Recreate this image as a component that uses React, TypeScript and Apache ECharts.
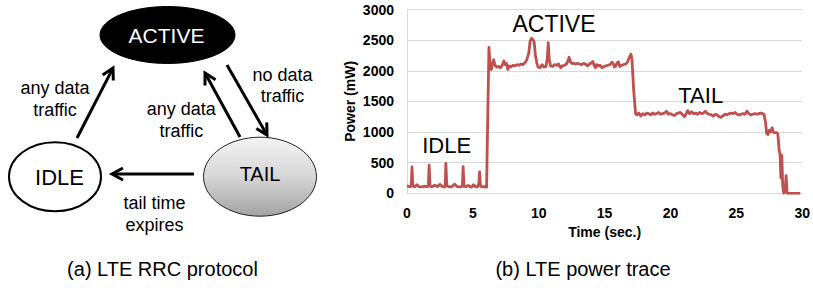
import React, { useEffect, useRef } from "react";
import * as echarts from "echarts";

// ---- data ----
const timeSec = [
  0, 0.2, 0.32, 0.38, 0.45, 0.6, 0.75, 0.9, 1.1, 1.3, 1.55, 1.62, 1.68, 1.75, 1.9, 2.1, 2.3, 2.5, 2.7, 2.85, 2.9, 2.95, 3.02, 3.2,
  3.4, 3.6, 3.8, 4.0, 4.15, 4.2, 4.26, 4.33, 4.5, 4.65, 4.8, 4.9, 5.05, 5.2, 5.35, 5.45, 5.51, 5.58, 5.75, 5.9, 6.04, 6.22,
  6.32, 6.4, 6.5, 6.58, 6.68, 6.8, 6.95, 7.1, 7.25, 7.35, 7.45, 7.55, 7.65, 7.75, 7.9, 8.05, 8.2, 8.35, 8.5, 8.65, 8.8, 8.95,
  9.1, 9.25, 9.35, 9.45, 9.55, 9.65, 9.75, 9.85, 9.95, 10.1, 10.25, 10.4, 10.55, 10.65, 10.72, 10.8, 10.9, 11.05, 11.2, 11.35,
  11.5, 11.65, 11.8, 11.95, 12.1, 12.2, 12.3, 12.4, 12.5, 12.65, 12.8, 12.95, 13.1, 13.25, 13.4, 13.55, 13.7, 13.85, 14.0,
  14.1, 14.2, 14.3, 14.4, 14.5, 14.65, 14.8, 14.95, 15.1, 15.25, 15.4, 15.55, 15.65, 15.75, 15.85, 15.95, 16.05, 16.15, 16.3,
  16.45, 16.6, 16.75, 16.9, 17.0, 17.08, 17.2, 17.35, 17.45, 17.6, 17.75, 17.9, 18.05, 18.2, 18.35, 18.5, 18.65, 18.8, 18.95,
  19.1, 19.25, 19.4, 19.55, 19.7, 19.85, 20.0, 20.15, 20.3, 20.45, 20.6, 20.75, 20.9, 21.05, 21.2, 21.3, 21.45, 21.6, 21.75,
  21.9, 22.05, 22.2, 22.35, 22.5, 22.65, 22.8, 22.95, 23.1, 23.25, 23.4, 23.55, 23.7, 23.85, 24.0, 24.15, 24.3, 24.45, 24.6,
  24.75, 24.9, 25.05, 25.2, 25.35, 25.5, 25.65, 25.8, 25.95, 26.1, 26.25, 26.4, 26.55, 26.7, 26.85, 27.0, 27.1, 27.22, 27.3,
  27.4, 27.5, 27.6, 27.72, 27.8, 27.9, 28.05, 28.15, 28.25, 28.32, 28.38, 28.45, 28.52, 28.6, 28.7, 28.78, 28.85, 29.0, 29.5,
  29.85,
];
const powerMw = [
  120, 110, 115, 430, 120, 105, 140, 110, 105, 115, 110, 120, 460, 115, 105, 130, 110, 145, 110, 105, 120, 490, 120, 110,
  105, 150, 110, 105, 110, 115, 435, 115, 110, 130, 105, 100, 140, 105, 110, 150, 350, 115, 105, 110, 100, 2380,
  2050, 2020, 2120, 2180, 2090, 2060, 2070, 2050, 2100, 2160, 2100, 2120, 2020, 2080, 2060, 2090, 2080, 2100, 2090, 2110, 2100, 2130,
  2180, 2300, 2490, 2530, 2510, 2470, 2250, 2130, 2060, 2050, 2100, 2060, 2070, 2200, 2460, 2180, 2080, 2070, 2100, 2090,
  2110, 2050, 2080, 2090, 2110, 2150, 2220, 2150, 2120, 2120, 2110, 2120, 2110, 2100, 2120, 2110, 2080, 2110, 2130,
  2150, 2090, 2050, 2100, 2080, 2090, 2050, 2070, 2080, 2090, 2100, 2140, 2120, 2060, 2080, 2130, 2145, 2070, 2090,
  2100, 2110, 2150, 2230, 2270, 2180, 1700, 1300, 1280, 1310, 1260, 1300, 1280, 1310, 1300, 1280, 1310, 1290, 1300,
  1320, 1290, 1300, 1310, 1340, 1290, 1300, 1280, 1270, 1300, 1310, 1320, 1290, 1250, 1300, 1350, 1300, 1330, 1300,
  1310, 1290, 1320, 1300, 1310, 1340, 1300, 1290, 1280, 1260, 1290, 1280, 1250, 1240, 1270, 1290, 1280, 1300, 1310,
  1300, 1320, 1290, 1280, 1290, 1300, 1290, 1340, 1300, 1280, 1290, 1300, 1290, 1300, 1310, 1300, 1290, 1150, 980,
  960, 1030, 1000, 1070, 1000, 990, 990, 970, 700, 640, 250, 620, 120, 0, 50, 290, 0, 0, 0,
  0,
];
const xMin = 0;
const xMax = 30;
const xStep = 5;
const yMin = 0;
const yMax = 3000;
const yStep = 500;

const stateLabels = ["ACTIVE", "IDLE", "TAIL"];
const transitionLabels = ["any data\ntraffic", "no data\ntraffic", "any data\ntraffic", "tail time\nexpires"];
const captions = ["(a) LTE RRC protocol", "(b) LTE power trace"];
const phaseLabels = ["IDLE", "ACTIVE", "TAIL"];
const axisNames = ["Time (sec.)", "Power (mW)"];

const FONT = "'Liberation Sans', Arial, Helvetica, sans-serif";
const LINE_RED = "#C0504D";
const GRID_GREY = "#d9d9d9";

function arrow(x1: number, y1: number, x2: number, y2: number): any[] {
  const dx = x2 - x1;
  const dy = y2 - y1;
  const L = Math.hypot(dx, dy);
  const ux = dx / L;
  const uy = dy / L;
  const h = 11;
  const w = 6;
  const bx = x2 - ux * h;
  const by = y2 - uy * h;
  const px = -uy;
  const py = ux;
  return [
    {
      type: "line",
      shape: { x1, y1, x2: x2 - ux * 1.5, y2: y2 - uy * 1.5 },
      style: { stroke: "#000", lineWidth: 3 },
    },
    {
      type: "polyline",
      shape: {
        points: [
          [bx + px * w, by + py * w],
          [x2, y2],
          [bx - px * w, by - py * w],
        ],
      },
      style: { stroke: "#000", lineWidth: 3, fill: null, lineJoin: "miter" },
    },
  ];
}

function txt(text: string, x: number, y: number, size: number, extra: any = {}) {
  return {
    type: "text",
    x,
    y,
    z: 10,
    style: {
      text,
      fill: "#000",
      fontSize: size,
      fontFamily: FONT,
      align: "center",
      verticalAlign: "middle",
      lineHeight: extra.lineHeight || size * 1.2,
      ...extra,
    },
  };
}

export default function App() {
  const ref = useRef<HTMLDivElement>(null);

  useEffect(() => {
    document.body.style.margin = "0";
    if (!ref.current) return;
    const chart = echarts.init(ref.current, undefined, { renderer: "svg" });

    const seriesData = timeSec.map((t, i) => [t, powerMw[i]]);

    const graphics: any[] = [
      // state ellipses
      {
        type: "ellipse",
        shape: { cx: 167.5, cy: 35, rx: 67.5, ry: 28.5 },
        style: { fill: "#000", stroke: "#000", lineWidth: 1 },
      },
      {
        type: "ellipse",
        shape: { cx: 55, cy: 176.7, rx: 46, ry: 34.5 },
        style: { fill: "#fff", stroke: "#000", lineWidth: 2 },
      },
      {
        type: "ellipse",
        shape: { cx: 260, cy: 176.7, rx: 56.5, ry: 39.5 },
        style: {
          fill: new echarts.graphic.LinearGradient(0, 0, 0, 1, [
            { offset: 0, color: "#f4f4f4" },
            { offset: 0.5, color: "#d6d6d6" },
            { offset: 1, color: "#a3a3a3" },
          ]),
          stroke: "#222",
          lineWidth: 1,
        },
      },
      txt(stateLabels[0], 166.5, 35.5, 21, { fill: "#fff" }),
      txt(stateLabels[1], 59.5, 177.5, 22),
      txt(stateLabels[2], 260, 173.5, 20),
      // arrows
      ...arrow(77, 138, 113, 68),
      ...arrow(227, 65, 267, 135),
      ...arrow(240, 137, 205, 73),
      ...arrow(194, 174, 112, 174),
      // transition labels
      txt(transitionLabels[0], 55, 99, 18, { lineHeight: 22 }),
      txt(transitionLabels[1], 282.5, 85, 18, { lineHeight: 21 }),
      txt(transitionLabels[2], 181.3, 120, 18, { lineHeight: 22 }),
      txt(transitionLabels[3], 154.5, 214, 18, { lineHeight: 22 }),
      // chart phase labels
      txt(phaseLabels[0], 446.7, 145, 22),
      txt(phaseLabels[1], 554, 23.5, 23),
      txt(phaseLabels[2], 700.7, 95.5, 22),
      // captions
      txt(captions[0], 162.5, 268.5, 20),
      txt(captions[1], 583, 268.5, 20),
    ];

    chart.setOption({
      animation: false,
      grid: { left: 407, right: 8, top: 9.5, bottom: 94.7, containLabel: false },
      xAxis: {
        type: "value",
        min: xMin,
        max: xMax,
        interval: xStep,
        name: axisNames[0],
        nameLocation: "middle",
        nameGap: 32,
        nameTextStyle: { fontFamily: FONT, fontWeight: "bold", fontSize: 14, color: "#000" },
        axisLine: { show: true, lineStyle: { color: GRID_GREY, width: 1 } },
        axisTick: { show: false },
        splitLine: { show: false },
        axisLabel: { fontFamily: FONT, fontWeight: "bold", fontSize: 14, color: "#000", margin: 13 },
      },
      yAxis: {
        type: "value",
        min: yMin,
        max: yMax,
        interval: yStep,
        name: axisNames[1],
        nameLocation: "middle",
        nameGap: 50,
        nameTextStyle: { fontFamily: FONT, fontWeight: "bold", fontSize: 14, color: "#000" },
        axisLine: { show: true, lineStyle: { color: GRID_GREY, width: 1 } },
        axisTick: { show: false },
        splitLine: { show: true, lineStyle: { color: GRID_GREY, width: 1 } },
        axisLabel: {
          fontFamily: FONT,
          fontWeight: "bold",
          fontSize: 14,
          color: "#000",
          margin: 13,
          formatter: (v: number) => String(v),
        },
      },
      series: [
        {
          type: "line",
          data: seriesData,
          showSymbol: false,
          symbol: "none",
          lineStyle: { color: LINE_RED, width: 2.8, join: "round" },
          z: 3,
        },
      ],
      graphic: graphics,
    });

    return () => {
      chart.dispose();
    };
  }, []);

  return <div ref={ref} style={{ width: 813, height: 288 }} />;
}
